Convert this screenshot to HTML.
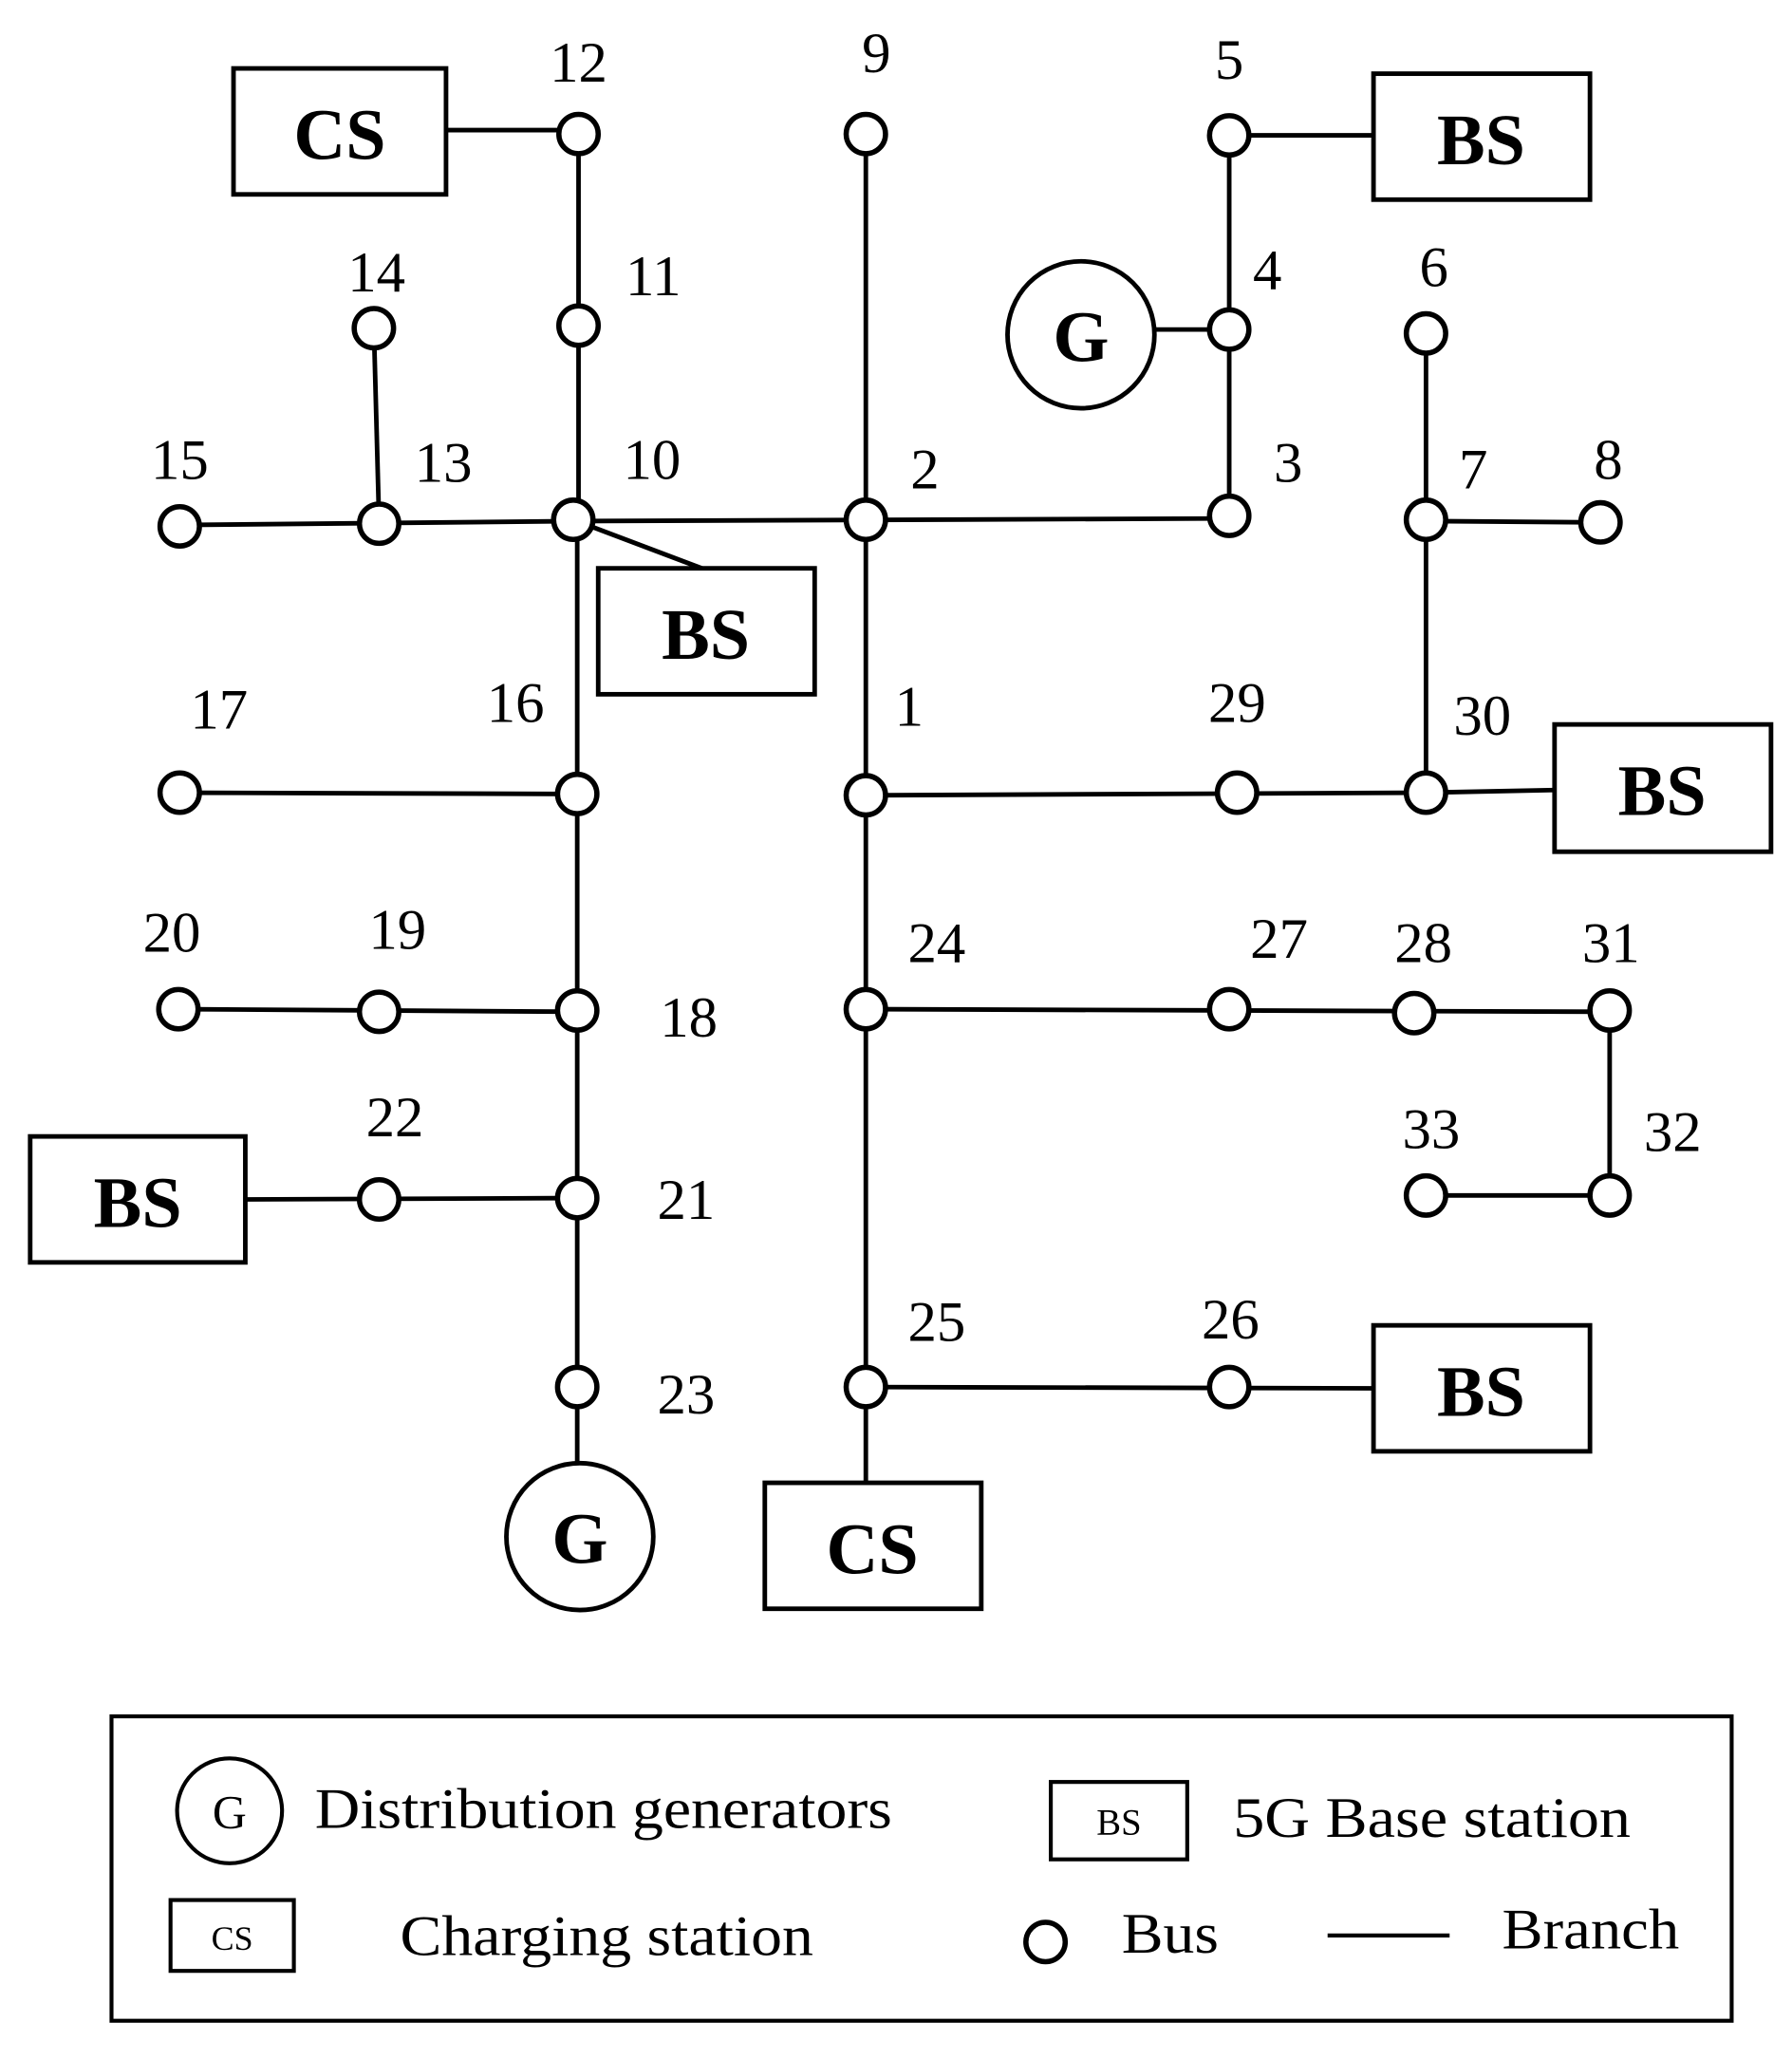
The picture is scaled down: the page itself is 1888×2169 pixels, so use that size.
<!DOCTYPE html>
<html><head><meta charset="utf-8"><style>
html,body{margin:0;padding:0;background:#fff;}
svg{display:block;}
text{font-family:"Liberation Serif",serif;fill:#000;}
.n{font-size:44px;text-anchor:middle;}
.b{font-size:55px;font-weight:bold;text-anchor:middle;}
.l{font-size:44px;}
</style></head><body>
<svg width="1888" height="2169" viewBox="0 0 1366 1569" xmlns="http://www.w3.org/2000/svg">
<g stroke="#000" stroke-width="3.5" fill="none">
<line x1="340" y1="99" x2="441" y2="99"/>
<line x1="441" y1="102" x2="441" y2="396"/>
<line x1="660" y1="102" x2="660" y2="1057"/>
<line x1="937" y1="103" x2="937" y2="393"/>
<line x1="937" y1="103" x2="1047" y2="103"/>
<line x1="880" y1="251" x2="937" y2="251"/>
<line x1="285" y1="250" x2="289" y2="399"/>
<line x1="1087" y1="254" x2="1087" y2="604"/>
<line x1="137" y1="400" x2="440" y2="397"/>
<line x1="440" y1="397" x2="937" y2="395"/>
<line x1="1087" y1="397" x2="1220" y2="398"/>
<line x1="437" y1="396" x2="535" y2="433"/>
<line x1="440" y1="396" x2="440" y2="1057"/>
<line x1="137" y1="604" x2="440" y2="605"/>
<line x1="660" y1="606" x2="1087" y2="604"/>
<line x1="1087" y1="604" x2="1185" y2="602"/>
<line x1="136" y1="769" x2="440" y2="771"/>
<line x1="660" y1="769" x2="1227" y2="771"/>
<line x1="1227" y1="770" x2="1227" y2="911"/>
<line x1="1087" y1="911" x2="1227" y2="911"/>
<line x1="187" y1="914" x2="440" y2="913"/>
<line x1="440" y1="1057" x2="440" y2="1115"/>
<line x1="660" y1="1057" x2="660" y2="1130"/>
<line x1="660" y1="1057" x2="1047" y2="1058"/>
<rect x="178" y="52" width="162" height="96"/>
<rect x="1047" y="56" width="165" height="96"/>
<rect x="456" y="433" width="165" height="96"/>
<rect x="1185" y="552" width="165" height="97"/>
<rect x="23" y="866" width="164" height="96"/>
<rect x="1047" y="1010" width="165" height="96"/>
<rect x="583" y="1130" width="165" height="96"/>
<circle cx="824" cy="255" r="56"/>
<circle cx="442" cy="1171" r="56"/>
</g>
<g stroke="#000" stroke-width="4" fill="#fff">
<circle cx="441" cy="102" r="15"/><circle cx="660" cy="102" r="15"/><circle cx="937" cy="103" r="15"/>
<circle cx="937" cy="251" r="15"/><circle cx="441" cy="248" r="15"/><circle cx="285" cy="250" r="15"/>
<circle cx="1087" cy="254" r="15"/><circle cx="137" cy="401" r="15"/><circle cx="289" cy="399" r="15"/>
<circle cx="437" cy="396" r="15"/><circle cx="660" cy="396" r="15"/><circle cx="937" cy="393" r="15"/>
<circle cx="1087" cy="396" r="15"/><circle cx="1220" cy="398" r="15"/><circle cx="137" cy="604" r="15"/>
<circle cx="440" cy="605" r="15"/><circle cx="660" cy="606" r="15"/><circle cx="943" cy="604" r="15"/>
<circle cx="1087" cy="604" r="15"/><circle cx="136" cy="769" r="15"/><circle cx="289" cy="771" r="15"/>
<circle cx="440" cy="770" r="15"/><circle cx="660" cy="769" r="15"/><circle cx="937" cy="769" r="15"/>
<circle cx="1078" cy="772" r="15"/><circle cx="1227" cy="770" r="15"/><circle cx="1087" cy="911" r="15"/>
<circle cx="1227" cy="911" r="15"/><circle cx="289" cy="914" r="15"/><circle cx="440" cy="913" r="15"/>
<circle cx="440" cy="1057" r="15"/><circle cx="660" cy="1057" r="15"/><circle cx="937" cy="1057" r="15"/>
</g>
<g>
<text class="b" x="259" y="121">CS</text>
<text class="b" x="1129" y="125">BS</text>
<text class="b" x="538" y="502">BS</text>
<text class="b" x="1267" y="621">BS</text>
<text class="b" x="105" y="935">BS</text>
<text class="b" x="1129" y="1079">BS</text>
<text class="b" x="665" y="1199">CS</text>
<text class="b" x="824" y="275">G</text>
<text class="b" x="442" y="1191">G</text>
</g>
<g>
<text class="n" x="441" y="62">12</text><text class="n" x="668" y="55">9</text><text class="n" x="937" y="60">5</text>
<text class="n" x="287" y="222">14</text><text class="n" x="498" y="225">11</text><text class="n" x="966" y="220">4</text>
<text class="n" x="1093" y="218">6</text><text class="n" x="137" y="365">15</text><text class="n" x="338" y="367">13</text>
<text class="n" x="497" y="365">10</text><text class="n" x="705" y="372">2</text><text class="n" x="982" y="367">3</text>
<text class="n" x="1123" y="372">7</text><text class="n" x="1226" y="365">8</text><text class="n" x="167" y="555">17</text>
<text class="n" x="393" y="550">16</text><text class="n" x="693" y="553">1</text><text class="n" x="943" y="550">29</text>
<text class="n" x="1130" y="560">30</text><text class="n" x="131" y="725">20</text><text class="n" x="303" y="723">19</text>
<text class="n" x="525" y="790">18</text><text class="n" x="714" y="733">24</text><text class="n" x="975" y="730">27</text>
<text class="n" x="1085" y="733">28</text><text class="n" x="1228" y="733">31</text><text class="n" x="1091" y="875">33</text>
<text class="n" x="1275" y="877">32</text><text class="n" x="301" y="866">22</text><text class="n" x="523" y="929">21</text>
<text class="n" x="523" y="1077">23</text><text class="n" x="714" y="1022">25</text><text class="n" x="938" y="1020">26</text>
</g>
<g stroke="#000" stroke-width="3" fill="none">
<rect x="85" y="1308" width="1235" height="232"/>
<circle cx="175" cy="1380" r="40"/>
<rect x="801" y="1358" width="104" height="59"/>
<rect x="130" y="1448" width="94" height="54"/>
<circle cx="797" cy="1480" r="15" stroke-width="4"/>
<line x1="1012" y1="1475" x2="1105" y2="1475"/>
</g>
<text x="175" y="1393" style="font-size:36px" text-anchor="middle">G</text>
<text x="853" y="1398" style="font-size:28px" text-anchor="middle">BS</text>
<text x="177" y="1486" style="font-size:26px" text-anchor="middle">CS</text>
<text class="l" x="240" y="1393" textLength="440" lengthAdjust="spacingAndGlyphs">Distribution generators</text>
<text class="l" x="940" y="1400" textLength="303" lengthAdjust="spacingAndGlyphs">5G Base station</text>
<text class="l" x="305" y="1490" textLength="315" lengthAdjust="spacingAndGlyphs">Charging station</text>
<text class="l" x="855" y="1488" textLength="74" lengthAdjust="spacingAndGlyphs">Bus</text>
<text class="l" x="1145" y="1485" textLength="135" lengthAdjust="spacingAndGlyphs">Branch</text>
</svg>
</body></html>
